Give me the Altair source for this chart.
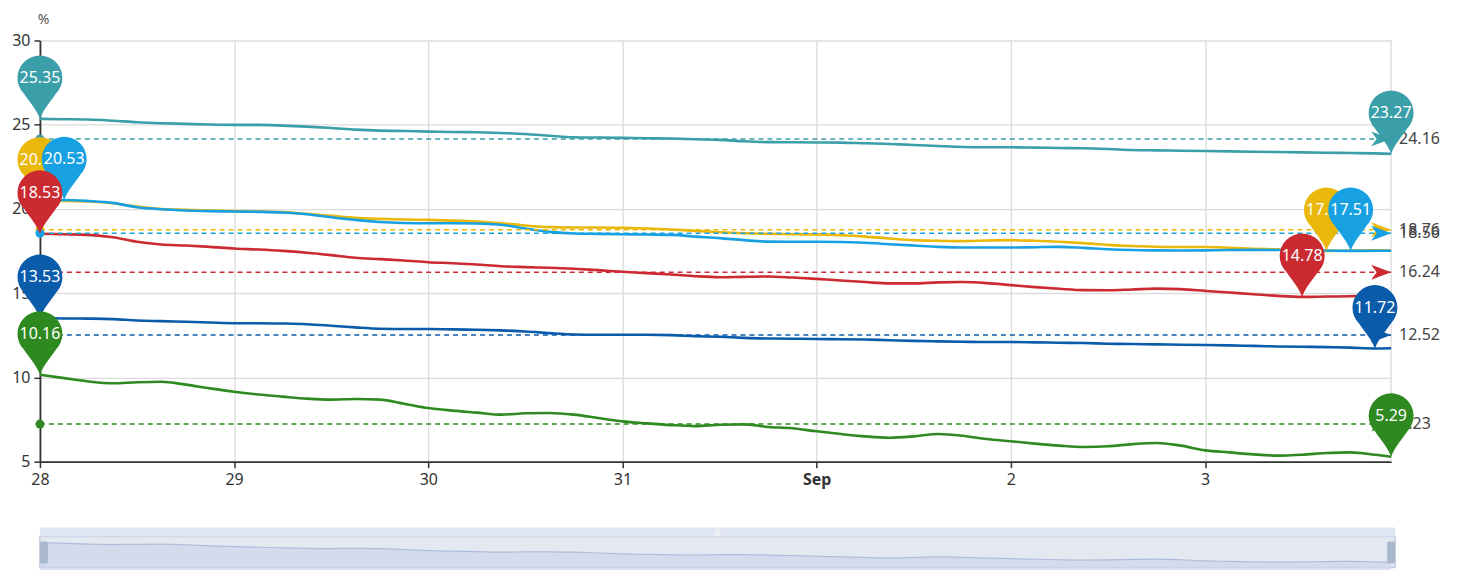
import altair as alt
import pandas as pd

# ---------------- data ----------------
series_names = ["S1", "S2", "S3", "S4", "S5", "S6"]
series_colors = ["#3a9fa9", "#e9b80a", "#18a1e2", "#cb2a31", "#0b5bab", "#2e8a20"]

times = [t.strftime("%Y-%m-%dT%H:%M:%S")
         for t in pd.date_range("2023-08-28 00:00", periods=56, freq="3h")]
times.append("2023-09-03T23:00:00")

teal = [25.35, 25.33, 25.31, 25.24, 25.15, 25.09, 25.05, 25.01, 24.99, 24.99,
        24.95, 24.89, 24.81, 24.71, 24.65, 24.63, 24.59, 24.57, 24.55, 24.51,
        24.45, 24.35, 24.26, 24.24, 24.22, 24.20, 24.18, 24.14, 24.10, 24.02,
        23.97, 23.96, 23.95, 23.94, 23.90, 23.86, 23.80, 23.74, 23.68, 23.66,
        23.66, 23.64, 23.62, 23.60, 23.56, 23.50, 23.48, 23.46, 23.44, 23.42,
        23.40, 23.38, 23.36, 23.34, 23.32, 23.30, 23.27]
yellow = [20.50, 20.48, 20.44, 20.34, 20.14, 20.00, 19.95, 19.91, 19.87, 19.85,
          19.81, 19.71, 19.59, 19.47, 19.41, 19.37, 19.35, 19.31, 19.25, 19.15,
          19.02, 18.92, 18.90, 18.90, 18.88, 18.84, 18.78, 18.70, 18.62, 18.56,
          18.52, 18.50, 18.49, 18.44, 18.36, 18.25, 18.15, 18.11, 18.09, 18.13,
          18.15, 18.11, 18.05, 17.97, 17.87, 17.80, 17.76, 17.74, 17.74, 17.70,
          17.64, 17.60, 17.55, 17.51, 17.53, 17.54, 17.53]
light_blue = [20.48, 20.53, 20.47, 20.36, 20.10, 19.98, 19.91, 19.87, 19.85, 19.83,
              19.79, 19.69, 19.51, 19.35, 19.23, 19.17, 19.15, 19.15, 19.14, 19.06,
              18.84, 18.64, 18.54, 18.52, 18.50, 18.48, 18.46, 18.36, 18.27, 18.15,
              18.06, 18.05, 18.05, 18.04, 17.99, 17.91, 17.83, 17.75, 17.71, 17.71,
              17.71, 17.73, 17.75, 17.69, 17.61, 17.56, 17.54, 17.53, 17.54, 17.56,
              17.57, 17.56, 17.55, 17.53, 17.51, 17.52, 17.52]
red = [18.53, 18.50, 18.46, 18.32, 18.05, 17.89, 17.83, 17.75, 17.65, 17.59,
       17.51, 17.40, 17.26, 17.10, 17.02, 16.94, 16.84, 16.78, 16.70, 16.60,
       16.55, 16.51, 16.45, 16.37, 16.27, 16.19, 16.11, 16.01, 15.95, 15.97,
       15.99, 15.93, 15.85, 15.75, 15.66, 15.58, 15.58, 15.64, 15.66, 15.60,
       15.48, 15.36, 15.26, 15.18, 15.17, 15.22, 15.27, 15.24, 15.14, 15.04,
       14.94, 14.84, 14.78, 14.80, 14.82, 14.86, 14.88]
dark_blue = [13.53, 13.50, 13.49, 13.46, 13.38, 13.34, 13.30, 13.26, 13.22, 13.22,
             13.20, 13.16, 13.07, 12.97, 12.89, 12.87, 12.87, 12.85, 12.83, 12.79,
             12.73, 12.63, 12.55, 12.53, 12.53, 12.53, 12.51, 12.45, 12.41, 12.35,
             12.31, 12.30, 12.28, 12.27, 12.25, 12.21, 12.17, 12.14, 12.12, 12.10,
             12.10, 12.08, 12.06, 12.04, 12.00, 11.98, 11.96, 11.94, 11.92, 11.90,
             11.87, 11.84, 11.82, 11.80, 11.77, 11.72, 11.73]
green = [10.16, 9.96, 9.76, 9.65, 9.71, 9.74, 9.57, 9.35, 9.15, 8.99,
         8.86, 8.74, 8.68, 8.72, 8.68, 8.44, 8.18, 8.03, 7.91, 7.79,
         7.87, 7.89, 7.79, 7.59, 7.39, 7.27, 7.17, 7.11, 7.19, 7.21,
         7.06, 6.98, 6.80, 6.64, 6.50, 6.42, 6.50, 6.64, 6.54, 6.34,
         6.21, 6.07, 5.95, 5.87, 5.91, 6.04, 6.11, 5.95, 5.67, 5.55,
         5.43, 5.36, 5.41, 5.51, 5.55, 5.41, 5.29]

avg_values = [24.16, 18.76, 18.56, 16.24, 12.52, 7.23]

all_series = [teal, yellow, light_blue, red, dark_blue, green]
y_ticks = [5, 10, 15, 20, 25, 30]

# ---------------- tables ----------------
rows = []
for name, vals in zip(series_names, all_series):
    assert len(vals) == len(times)
    for t, v in zip(times, vals):
        rows.append({"time": t, "value": v, "series": name})
df = pd.DataFrame(rows)

avg_df = pd.DataFrame({
    "series": series_names,
    "value": avg_values,
    "time": [times[0]] * 6,
    "time2": [times[-1]] * 6,
    "label": [f"{v:.2f}" for v in avg_values],
})

pin_rows = []
for name, vals in zip(series_names, all_series):
    imax = max(range(len(vals)), key=lambda i: vals[i])
    imin = min(range(len(vals)), key=lambda i: vals[i])
    for i in (imax, imin):
        pin_rows.append({"series": name, "time": times[i], "value": vals[i],
                         "label": f"{vals[i]:.2f}"})
pin_df = pd.DataFrame(pin_rows)

green_df = pd.DataFrame({"time": times, "shadow": green})

# ---------------- scales / axes ----------------
FONT = "Noto Sans"
GRID = "#dcdcdc"
AXC = "#333333"

x_scale = alt.Scale(domain=[alt.DateTime(year=2023, month=8, date=28, hours=0),
                            alt.DateTime(year=2023, month=9, date=3, hours=23)],
                    nice=False)
y_scale = alt.Scale(domain=[5, 30], nice=False, zero=False)

x_axis = alt.Axis(
    title=None, grid=True, gridColor=GRID, gridWidth=1.3,
    tickCount=alt.TimeIntervalStep(interval="day", step=1),
    labelExpr="date(datum.value) == 1 ? timeFormat(datum.value, '%b') : timeFormat(datum.value, '%-d')",
    labelFontWeight={"condition": {"test": "date(datum.value) == 1", "value": "bold"},
                     "value": "normal"},
    labelFontSize=16, labelColor=AXC, labelFont=FONT, labelFlush=False,
    labelPadding=4, domainColor=AXC, domainWidth=1.8,
    tickColor=AXC, tickSize=6, tickWidth=1.5,
)
y_axis = alt.Axis(
    values=y_ticks, grid=True, gridColor=GRID, gridWidth=1.3,
    labelFontSize=16, labelColor=AXC, labelFont=FONT, labelPadding=4,
    domainColor=AXC, domainWidth=1.8, tickColor=AXC, tickSize=6, tickWidth=1.5,
    title="%", titleAngle=0, titleX=3, titleY=-21, titleAlign="center",
    titleBaseline="middle", titleFontSize=14, titleFontWeight="normal",
    titleColor="#555555", titleFont=FONT,
)

X = alt.X("time:T", scale=x_scale, axis=x_axis)
Y = alt.Y("value:Q", scale=y_scale, axis=y_axis)
Xs = alt.X("time:T", scale=x_scale)
Ys = alt.Y("value:Q", scale=y_scale)
color = alt.Color("series:N", scale=alt.Scale(domain=series_names, range=series_colors),
                  legend=None)

PIN = ("M0,0 C-0.3,-0.9 -1.2,-1.9 -1.59,-2.51 A2.25,2.25,0,1,1,1.59,-2.51 "
       "C1.2,-1.9 0.3,-0.9 0,0 Z")
ARROW = "M0,0 L-2,-0.75 L-1.45,0 L-2,0.75 Z"

# ---------------- main layers ----------------
lines = alt.Chart(df).mark_line(strokeWidth=2.6, interpolate="monotone").encode(
    x=X, y=Y, color=color, order=alt.Order("time:T"))

edge = alt.Chart(pd.DataFrame({"time": [times[-1]]})).mark_rule(
    color=GRID, strokeWidth=1.3).encode(x=Xs)

avg_rules = alt.Chart(avg_df).mark_rule(strokeDash=[5, 4], strokeWidth=1.5).encode(
    x=Xs, x2="time2:T", y=Ys, color=color)
avg_start = alt.Chart(avg_df).mark_point(shape="circle", filled=True, opacity=1,
                                         size=80).encode(x=Xs, y=Ys, color=color)
avg_arrow = alt.Chart(avg_df).mark_point(shape=ARROW, filled=True, opacity=1,
                                         size=400, strokeWidth=0).encode(
    x=alt.X("time2:T", scale=x_scale), y=Ys, color=color)
avg_text = alt.Chart(avg_df).mark_text(align="left", baseline="middle", dx=8,
                                       fontSize=16, color="#444444", font=FONT).encode(
    x=alt.X("time2:T", scale=x_scale), y=Ys, text="label:N")

layers = [edge, lines, avg_rules, avg_start, avg_arrow, avg_text]
for name, col in zip(series_names, series_colors):
    sub = pin_df[pin_df["series"] == name]
    pin = alt.Chart(sub).mark_point(shape=PIN, filled=True, opacity=1, size=400,
                                    strokeWidth=0, color=col).encode(x=Xs, y=Ys)
    lab = alt.Chart(sub).mark_text(dy=-41, fontSize=16, color="white", font=FONT,
                                   baseline="middle", align="center").encode(
        x=Xs, y=Ys, text="label:N")
    layers += [pin, lab]

main = alt.layer(*layers)

# ---------------- data-zoom slider ----------------
one = pd.DataFrame({"a": [0]})
bar_top = alt.Chart(one).mark_rect(color="#dfe5f2").encode(
    x=alt.value(0), x2=alt.value(1358), y=alt.value(488), y2=alt.value(497))
box = alt.Chart(one).mark_rect(fill="#e3e8f1", stroke="#c3cde0", strokeWidth=1.5).encode(
    x=alt.value(0), x2=alt.value(1358), y=alt.value(497), y2=alt.value(528))
shadow = alt.Chart(green_df).mark_area(
    interpolate="monotone", color="#cdd6e9",
    line={"color": "#aebdda", "strokeWidth": 1.2}).encode(
    x=alt.X("time:T", scale=x_scale),
    y=alt.Y("shadow:Q", axis=None,
            scale=alt.Scale(domain=[min(green), max(green)], zero=False, nice=False,
                            range=[523, 503])),
    y2=alt.value(527))
h_left = alt.Chart(one).mark_rect(color="#a9b8cf", cornerRadius=2).encode(
    x=alt.value(0), x2=alt.value(8), y=alt.value(502), y2=alt.value(524))
h_right = alt.Chart(one).mark_rect(color="#a9b8cf", cornerRadius=2).encode(
    x=alt.value(1350), x2=alt.value(1358), y=alt.value(502), y2=alt.value(524))
grip = alt.Chart(one).mark_text(text="|||", fontSize=7, color="#ffffff",
                                baseline="middle").encode(
    x=alt.value(679), y=alt.value(492.5))

slider = alt.layer(box, shadow, bar_top, h_left, h_right, grip)

chart = alt.layer(main, slider).resolve_scale(y="independent").properties(
    width=1354, height=422,
    padding={"left": 32, "top": 32, "right": 66, "bottom": 108},
    autosize=alt.AutoSizeParams(type="none"),
).configure_view(stroke=None)

chart.save("out.html", embed_options={"renderer": "svg", "actions": False})
